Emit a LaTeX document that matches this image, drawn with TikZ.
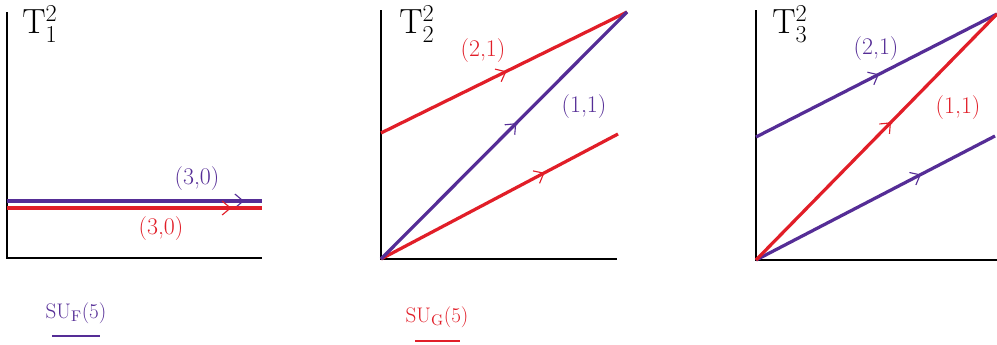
\documentclass[tikz,border=0pt]{standalone}
\usetikzlibrary{decorations.markings,arrows.meta}
\definecolor{fcol}{RGB}{85,45,150}
\definecolor{gcol}{RGB}{225,30,40}
\tikzset{
  axis/.style={black,line width=0.9pt},
  cyc/.style={line width=2.3pt},
  midarrow/.style={postaction={decorate},
    decoration={markings,mark=at position #1 with {\arrow[line width=0.8pt]{Straight Barb[length=6pt,width=10pt]}}}},
  cyclabel/.style={inner sep=0pt,font=\fontsize{17}{20}\selectfont},
  toruslabel/.style={inner sep=0pt,anchor=west,font=\fontsize{24}{28}\selectfont},
  grouplabel/.style={inner sep=0pt,font=\fontsize{15}{18}\selectfont},
}
\begin{document}
\begin{tikzpicture}[x=0.025cm,y=-0.025cm]
        \useasboundingbox (0,0) rectangle (997,344);
        % first torus
        \coordinate (o1) at (7,258);
        \draw[axis] (7,12) -- (o1) -- (262,258);
        \draw[cyc,fcol,midarrow=0.93] (7,201) -- (262,201);
        \draw[cyc,gcol,midarrow=0.88] (7,208) -- (262,208);
        \node[toruslabel] (t1) at (22,24) {$\mathrm{T}_1^2$};
        \node[cyclabel,fcol] (f30) at (197,179) {(3,0)};
        \node[cyclabel,gcol] (g30) at (161,229) {(3,0)};
        % second torus
        \coordinate (o2) at (381,259);
        \coordinate (c2) at (627,12);
        \draw[axis] (381,10) -- (o2) -- (617,259);
        \draw[cyc,gcol,midarrow=0.51] (381,133) -- (c2);
        \draw[cyc,gcol,midarrow=0.69] (o2) -- (618,134);
        \draw[cyc,fcol,midarrow=0.55] (o2) -- (c2);
        \node[toruslabel] (t2) at (399,24) {$\mathrm{T}_2^2$};
        \node[cyclabel,gcol] (g21) at (483,51) {(2,1)};
        \node[cyclabel,fcol] (f11) at (584,107) {(1,1)};
        % third torus
        \coordinate (o3) at (756,260);
        \coordinate (c3) at (997,14);
        \draw[axis] (756,10) -- (o3) -- (997,260);
        \draw[cyc,fcol,midarrow=0.51] (756,137) -- (c3);
        \draw[cyc,fcol,midarrow=0.69] (o3) -- (995,136);
        \draw[cyc,gcol,midarrow=0.56] (o3) -- (c3);
        \node[toruslabel] (t3) at (772,24) {$\mathrm{T}_3^2$};
        \node[cyclabel,fcol] (f21) at (876,49) {(2,1)};
        \node[cyclabel,gcol] (g11) at (958,108) {(1,1)};
        % groups
        \node[grouplabel,fcol] (suf) at (76,313) {SU$_{\mathrm{F}}$(5)};
        \draw[fcol,line width=1.8pt] (52,336) -- (100,336);
        \node[grouplabel,gcol] (sug) at (437,317) {SU$_{\mathrm{G}}$(5)};
        \draw[gcol,line width=1.8pt] (415,341) -- (460,341);
\end{tikzpicture}
\end{document}
